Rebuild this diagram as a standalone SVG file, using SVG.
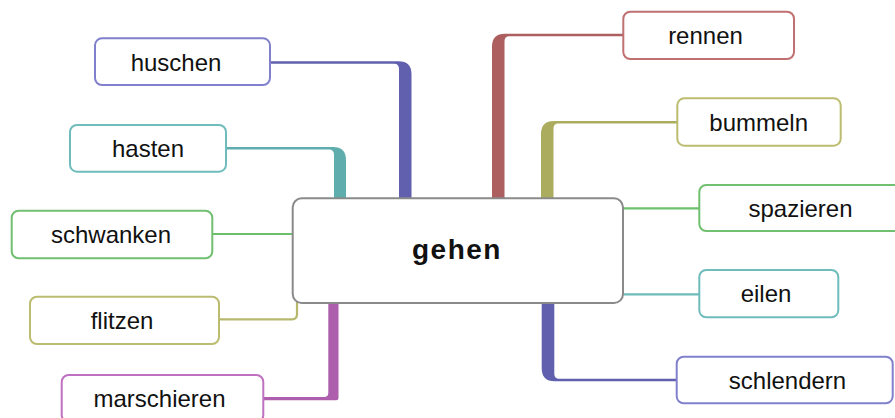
<svg xmlns="http://www.w3.org/2000/svg" width="895" height="418" viewBox="0 0 895 418">
<style>
.box{fill:#fff;stroke-width:2}
.t{font-family:"Liberation Sans",Arial,sans-serif;font-size:24px;fill:#111;text-anchor:middle}
.main{font-family:"Liberation Sans",Arial,sans-serif;font-size:28px;font-weight:bold;fill:#111;text-anchor:middle;letter-spacing:1.5px}
.thin{fill:none;stroke-width:2.2}
</style>
<rect width="895" height="418" fill="#fff"/>
<g id="connectors">
<path fill="#6060ae" d="M270,61.2 H398.5 Q411.5,61.2 411.5,74.2 V199 H399 V69 Q399,63.7 394,63.7 H270 Z"/>
<path fill="#60adad" d="M226,147 H333 Q346,147 346,160 V199 H334 V155 Q334,149.5 329,149.5 H226 Z"/>
<path fill="#ad5f5f" d="M624,33.8 H505 Q492,33.8 492,46.8 V199 H504.5 V41.3 Q504.5,36.3 509.5,36.3 H624 Z"/>
<path fill="#acac5e" d="M678,121 H554 Q541,121 541,134 V199 H553.5 V128.5 Q553.5,123.5 558.5,123.5 H678 Z"/>
<path fill="#6060ae" d="M677,381.3 H554.7 Q541.7,381.3 541.7,368.3 V302 H554.3 V373.8 Q554.3,378.8 559.3,378.8 H677 Z"/>
<path fill="#ad5fad" d="M262,400.2 H336 Q338.5,400.2 338.5,397.7 V302 H328.3 V392.7 Q328.3,397 324,397 H262 Z"/>
<path class="thin" stroke="#6cbf6c" d="M212,234 H293"/>
<path class="thin" stroke="#b8b86c" d="M219,319.3 H292 Q297,319.3 297,314.3 V302"/>
<path class="thin" stroke="#6cbf6c" d="M622,208.3 H700"/>
<path class="thin" stroke="#6cbcbc" d="M622,294.3 H700"/>
</g>
<g id="gehen">
<rect class="box" x="292.7" y="198.3" width="330.3" height="104.7" rx="9" stroke="#8a8a8a"/>
<text class="main" x="457" y="258.5">gehen</text>
</g>
<g id="huschen">
<rect class="box" x="95" y="38.3" width="175" height="46.7" rx="7" stroke="#8080cc"/>
<text class="t" x="176" y="70.5">huschen</text>
</g>
<g id="hasten">
<rect class="box" x="70" y="125" width="156" height="46.7" rx="7" stroke="#70bcbc"/>
<text class="t" x="148" y="156.8">hasten</text>
</g>
<g id="schwanken">
<rect class="box" x="11.7" y="210.7" width="200.6" height="47.6" rx="7" stroke="#70c070"/>
<text class="t" x="111" y="242.5">schwanken</text>
</g>
<g id="flitzen">
<rect class="box" x="30" y="296.7" width="189" height="47.3" rx="7" stroke="#bcbc70"/>
<text class="t" x="122" y="328.5">flitzen</text>
</g>
<g id="marschieren">
<rect class="box" x="61.7" y="375" width="201.6" height="47" rx="7" stroke="#c070c0"/>
<text class="t" x="159.5" y="406.5">marschieren</text>
</g>
<g id="rennen">
<rect class="box" x="623.3" y="11.7" width="170.7" height="47.3" rx="7" stroke="#c07070"/>
<text class="t" x="705.5" y="43.5">rennen</text>
</g>
<g id="bummeln">
<rect class="box" x="677.3" y="98.3" width="163.4" height="47.4" rx="7" stroke="#bcbc70"/>
<text class="t" x="758.7" y="130.5">bummeln</text>
</g>
<g id="spazieren">
<rect class="box" x="699.3" y="185" width="205" height="46" rx="7" stroke="#70c070"/>
<text class="t" x="800.5" y="216.5">spazieren</text>
</g>
<g id="eilen">
<rect class="box" x="699.3" y="270" width="139" height="47.3" rx="7" stroke="#70bcbc"/>
<text class="t" x="766" y="302">eilen</text>
</g>
<g id="schlendern">
<rect class="box" x="676.7" y="356.7" width="216" height="46.6" rx="7" stroke="#8080cc"/>
<text class="t" x="787.5" y="388.5">schlendern</text>
</g>
</svg>
